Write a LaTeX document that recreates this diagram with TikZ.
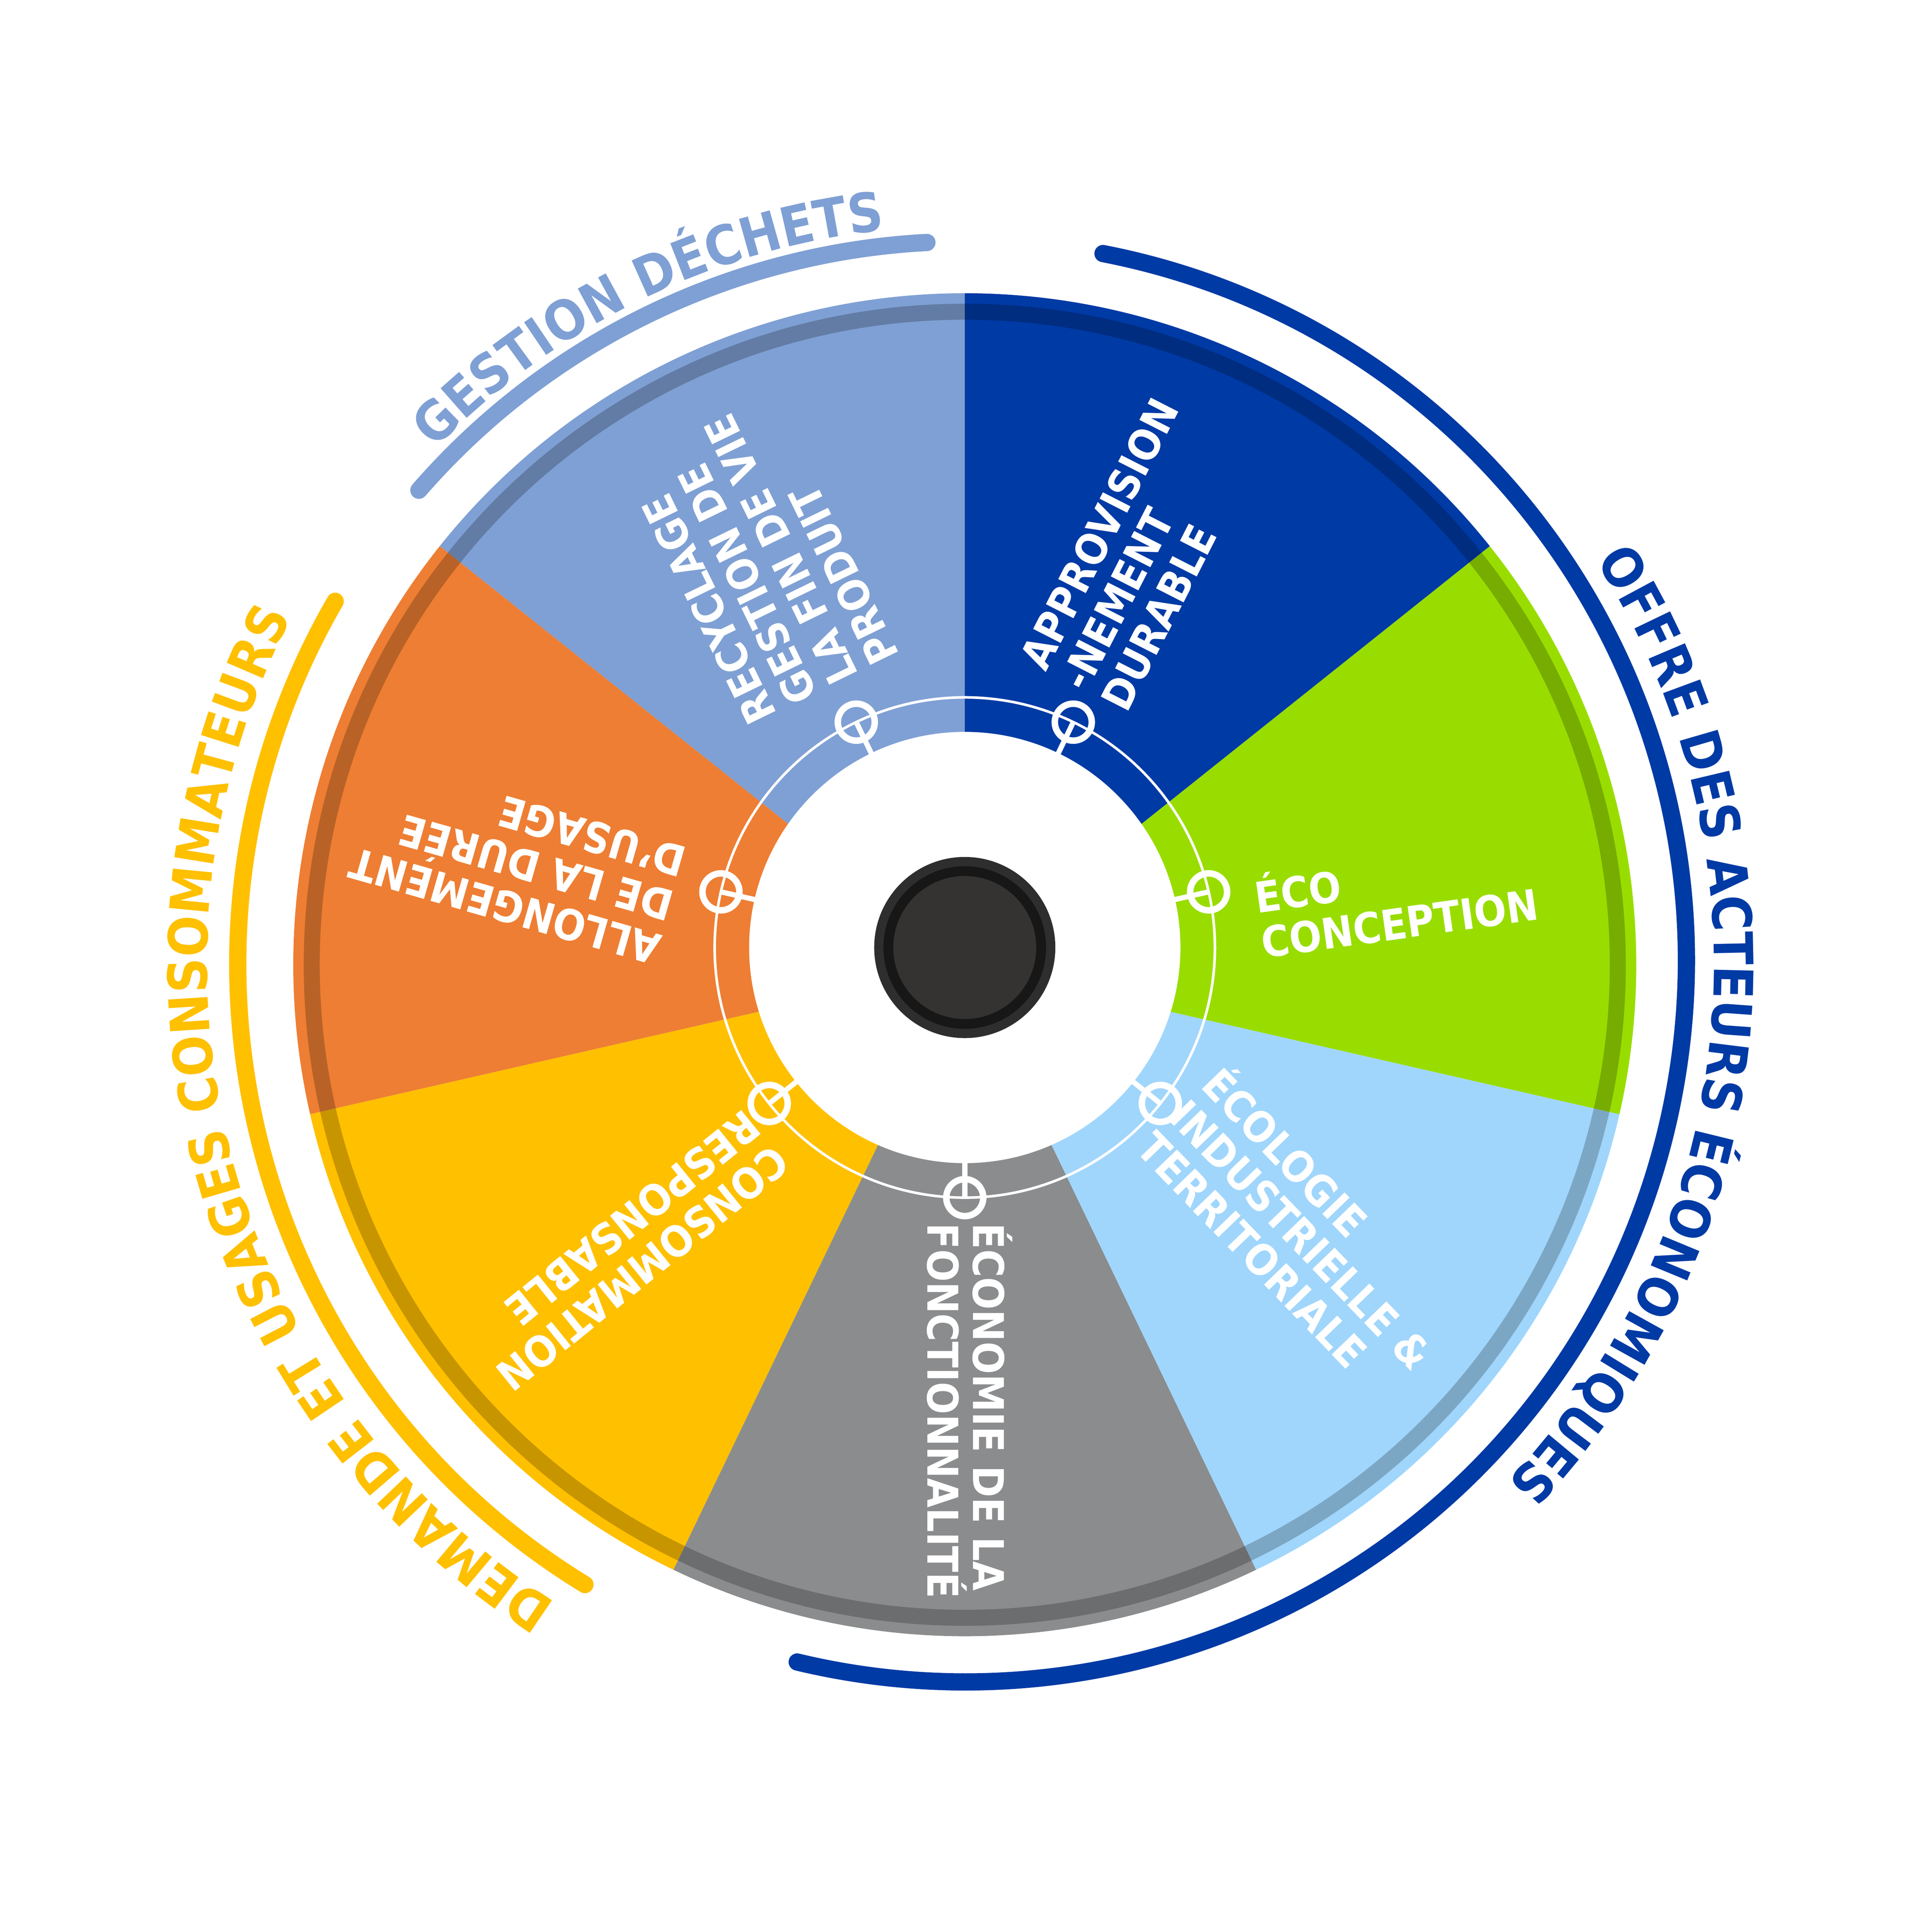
\documentclass[tikz,border=0pt]{standalone}
\usepackage{fontspec}
\setmainfont{DejaVu Sans}
\newfontfamily\condfont{DejaVu Sans Condensed}
\usetikzlibrary{decorations.text}
\definecolor{cGestion}{HTML}{7FA0D4}
\definecolor{cOrange}{HTML}{EE7E33}
\definecolor{cJaune}{HTML}{FFC000}
\definecolor{cGris}{HTML}{8B8C8D}
\definecolor{cCiel}{HTML}{A0D6FC}
\definecolor{cVert}{HTML}{99DD00}
\definecolor{cBleu}{HTML}{003AA5}
\definecolor{cHub}{HTML}{353331}
\newcommand\arcfont{\condfont\bfseries\fontsize{12.5}{14}\selectfont}
\begin{document}
\begin{tikzpicture}[
    lbl/.style = {
      text = white, align = left, inner sep = 0pt,
      font = \condfont\bfseries\fontsize{9.8}{10.5}\selectfont,
    },
    dot/.style = {circle, draw = white, line width = 1.5pt, minimum size = 0.3cm, inner sep = 0pt},
    band/.style = {line width = 0.14cm, line cap = round},
    arctext/.style 2 args = {
      decorate, decoration = {text along path, text align = center,
        text color = #1, text = {|\arcfont|#2}}
    }
  ]
  \useasboundingbox (-7.83,-7.85) rectangle (7.85,7.83);
  \coordinate (O) at (0,0);
  \coordinate (C) at (0,0.14);

  % wheel
  \foreach \a/\col in {90/cGestion, 141.43/cOrange, 192.86/cJaune, 244.29/cGris,
                       295.71/cCiel, 347.14/cVert, 398.57/cBleu}
    \fill[\col] (O) -- (\a:5.45) arc[start angle = \a, end angle = \a+51.43, radius = 5.45] -- cycle;
  \draw[black, opacity = .22, line width = 0.13cm] (O) circle (5.3);

  \fill[white] (C) circle (1.75);
  \draw[white, line width = .6pt] (C) circle (2.03);
  \foreach \i in {0,...,6} {
    \pgfmathsetmacro\a{115.71+51.43*\i}
    \path (C) ++(\a:2.03) node[dot] (m\i) {};
    \draw[white, line width = 1.2pt] (C) ++(\a:1.72) -- (m\i.center);
  }

  \node[circle, fill = black!82, minimum size = 1.47cm, inner sep = 0pt] (hub) at (C) {};
  \node[circle, fill = black!91, minimum size = 1.32cm, inner sep = 0pt] (hubring) at (C) {};
  \node[circle, fill = cHub, minimum size = 1.16cm, inner sep = 0pt] (hubcore) at (C) {};

  % sector labels
  \node[lbl, rotate = 63] (appro) at (1.42,3.33) {APPROVISION\\-NEMENT\\DURABLE};
  \node[lbl, rotate = 8] (eco) at (3.5,0.55) {ÉCO\\CONCEPTION};
  \node[lbl, rotate = -46] (ecit) at (2.75,-2.17) {ÉCOLOGIE\\INDUSTRIELLE \&\\TERRITORIALE};
  \node[lbl, rotate = -90] (efonc) at (0.04,-3.62) {ÉCONOMIE DE LA\\FONCTIONNALITÉ};
  \node[lbl, rotate = 219] (conso) at (-2.73,-2.32) {CONSOMMATION\\RESPONSABLE};
  \node[lbl, rotate = 164] (allong) at (-3.63,0.83) {ALLONGEMENT\\DE LA DURÉE\\D’USAGE};
  \node[lbl, rotate = 116] (recyc) at (-1.66,3.29) {RECYCLAGE\\GESTION DE\\LA FIN DE VIE\\PRODUIT};

  % outer arcs
  \draw[band, cGestion] (93:5.87) arc[start angle = 93, end angle = 139, radius = 5.87];
  \draw[band, cBleu] (79:5.88) arc[start angle = 79, end angle = -103.5, radius = 5.85];
  \draw[band, cJaune] (150:5.9) arc[start angle = 150, end angle = 238.5, radius = 5.9];

  \path[arctext = {cGestion}{GESTION DÉCHETS}] (146:6.0) arc[start angle = 146, end angle = 86, radius = 6.0];
  \path[arctext = {cBleu}{OFFRE DES ACTEURS ÉCONOMIQUES}] (45:6.08) arc[start angle = 45, end angle = -56, radius = 6.08];
  \path[arctext = {cJaune}{DEMANDE ET USAGES CONSOMMATEURS}] (245:6.15) arc[start angle = 245, end angle = 145, radius = 6.15];
\end{tikzpicture}
\end{document}
